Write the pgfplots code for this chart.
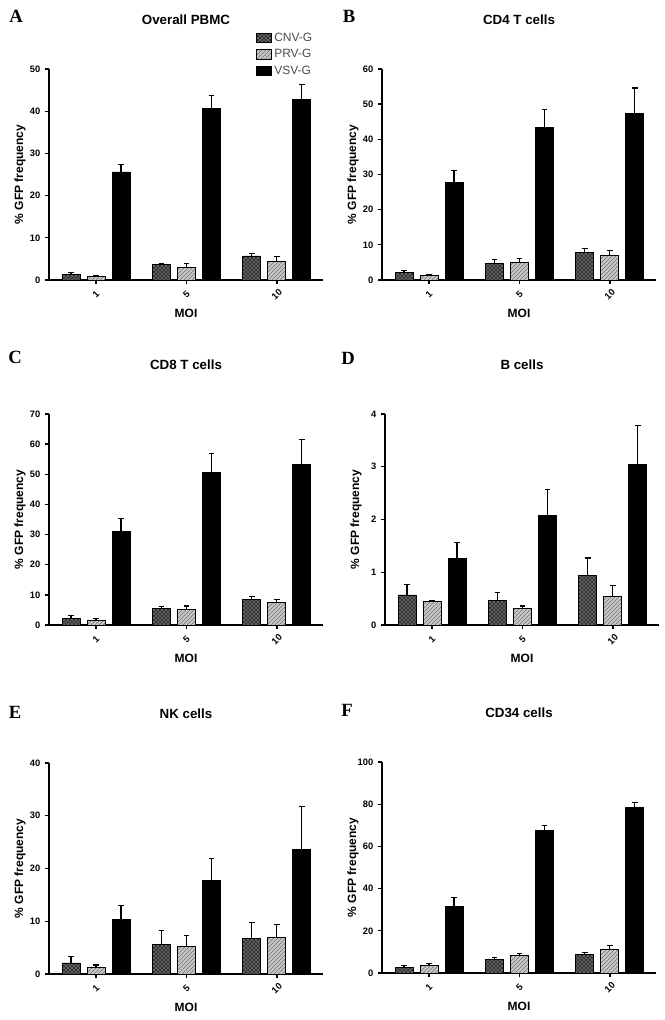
\documentclass[border=0pt]{standalone}
\usepackage{pgfplots}
\pgfplotsset{compat=1.18}
\usetikzlibrary{patterns}
\usepackage{fontspec}
\setmainfont{Liberation Sans}
\newfontfamily\serifb{Liberation Serif}
\begin{document}
\begin{tikzpicture}
\useasboundingbox (0,0) rectangle (498pt,765pt);
\pgfplotsset{
  panel/.style={
    scale only axis, width=205.5pt, height=158.25pt,
    ybar=5.25pt, bar width=13.5pt,
    xmin=-0.52, xmax=2.51, ymin=0,
    axis x line*=bottom, axis y line*=left,
    axis line style={line width=1pt},
    tick style={line width=1pt, black},
    tick align=outside, major tick length=3pt,
    xtick={0,1,2}, xticklabels={1,5,10},
    /pgf/number format/assume math mode=true,
    ticklabel style={font=\bfseries\fontsize{7}{8}\selectfont},
    xticklabel style={yshift=-8pt, rotate=45, anchor=center, inner sep=0pt},
    xlabel={MOI}, ylabel={\% GFP frequency},
    label style={font=\bfseries\fontsize{9}{10}\selectfont},
    xlabel style={at={(axis description cs:0.5,-0.158)}, anchor=center, inner sep=0pt},
    ylabel style={at={(axis description cs:-0.106,0.5)}, anchor=center, rotate=0},
    title style={at={(axis description cs:0.5,1)}, anchor=center, yshift=30.75pt, font=\bfseries\fontsize{10}{12}\selectfont},
    error bars/y dir=plus, error bars/y explicit,
    error bars/error mark=-,
    error bars/error mark options={rotate=90, black, mark size=2.2pt, line width=0.8pt},
    error bars/error bar style={black, line width=0.8pt},
  },
  leg/.style={legend image code/.code={\draw[##1] (0pt,-3.5pt) rectangle (11pt,3.5pt);}},
  cnv/.style={draw=black, line width=0.6pt,
    fill=black!80, postaction={pattern=crosshatch dots, pattern color=white}, leg},
  prv/.style={draw=black, line width=0.6pt,
    fill=black!22, postaction={pattern=north east lines, pattern color=black!55}, leg},
  vsv/.style={draw=black, line width=0.6pt, fill=black, leg},
}
% A
\begin{axis}[panel, at={(36.75pt,555pt)}, anchor=south west, ymax=50, ytick={0,10,...,50},
  title={Overall PBMC},
  legend style={at={(axis description cs:0.755,1.185)}, anchor=north west, draw=none, fill=none,
    font=\fontsize{9}{10}\selectfont\color{black!70}, row sep=0.5pt, inner sep=0pt},
  legend cell align=left]
\addplot[cnv] coordinates {(0,1.4) +- (0,0.3) (1,3.7) +- (0,0.3) (2,5.7) +- (0,0.5)};
\addplot[prv] coordinates {(0,0.8) +- (0,0.2) (1,3.0) +- (0,1.0) (2,4.35) +- (0,1.2)};
\addplot[vsv] coordinates {(0,25.6) +- (0,1.8) (1,40.6) +- (0,3.1) (2,42.7) +- (0,3.6)};
\legend{CNV-G, PRV-G, VSV-G}
\end{axis}
% B
\begin{axis}[panel, at={(286.5pt,555pt)}, anchor=south west, ymax=60, ytick={0,10,...,60},
  title={CD4 T cells}]
\addplot[cnv] coordinates {(0,2.2) +- (0,0.4) (1,4.75) +- (0,0.95) (2,7.9) +- (0,1.0)};
\addplot[prv] coordinates {(0,1.3) +- (0,0.3) (1,5.1) +- (0,1.1) (2,7.1) +- (0,1.3)};
\addplot[vsv] coordinates {(0,27.8) +- (0,3.4) (1,43.4) +- (0,5.0) (2,47.3) +- (0,7.3)};
\end{axis}
% C
\begin{axis}[panel, at={(36.75pt,296.25pt)}, anchor=south west, ymax=70, ytick={0,10,...,70},
  title={CD8 T cells}]
\addplot[cnv] coordinates {(0,2.2) +- (0,0.8) (1,5.5) +- (0,0.7) (2,8.5) +- (0,1.0)};
\addplot[prv] coordinates {(0,1.4) +- (0,0.6) (1,5.3) +- (0,1.0) (2,7.5) +- (0,1.1)};
\addplot[vsv] coordinates {(0,31.0) +- (0,4.2) (1,50.6) +- (0,6.2) (2,53.4) +- (0,8.1)};
\end{axis}
% D
\begin{axis}[panel, at={(288.75pt,296.25pt)}, anchor=south west, ymax=4, ytick={0,1,...,4},
  title={B cells}]
\addplot[cnv] coordinates {(0,0.57) +- (0,0.2) (1,0.46) +- (0,0.15) (2,0.94) +- (0,0.33)};
\addplot[prv] coordinates {(0,0.45) +- (0,0.005) (1,0.32) +- (0,0.04) (2,0.54) +- (0,0.2)};
\addplot[vsv] coordinates {(0,1.27) +- (0,0.30) (1,2.08) +- (0,0.48) (2,3.04) +- (0,0.75)};
\end{axis}
% E
\begin{axis}[panel, at={(36.75pt,34.5pt)}, anchor=south west, ymax=40, ytick={0,10,...,40},
  title={NK cells}]
\addplot[cnv] coordinates {(0,2.1) +- (0,1.2) (1,5.6) +- (0,2.6) (2,6.7) +- (0,3.0)};
\addplot[prv] coordinates {(0,1.26) +- (0,0.45) (1,5.3) +- (0,1.95) (2,6.85) +- (0,2.5)};
\addplot[vsv] coordinates {(0,10.3) +- (0,2.7) (1,17.7) +- (0,4.2) (2,23.6) +- (0,8.2)};
\end{axis}
% F
\begin{axis}[panel, at={(286.5pt,35.25pt)}, anchor=south west, ymax=100, ytick={0,20,...,100},
  title={CD34 cells}]
\addplot[cnv] coordinates {(0,2.8) +- (0,0.6) (1,6.3) +- (0,1.2) (2,9.0) +- (0,0.7)};
\addplot[prv] coordinates {(0,3.5) +- (0,0.8) (1,8.2) +- (0,1.2) (2,11.3) +- (0,1.6)};
\addplot[vsv] coordinates {(0,31.4) +- (0,4.3) (1,67.6) +- (0,2.2) (2,78.6) +- (0,2.2)};
\end{axis}
\begin{scope}[every node/.style={font=\serifb\bfseries\fontsize{14}{14}\selectfont}]
\node at (12pt,753pt) {A};
\node at (261.75pt,753pt) {B};
\node at (11.25pt,497.25pt) {C};
\node at (261pt,496.5pt) {D};
\node at (11.25pt,231pt) {E};
\node at (260.25pt,232.5pt) {F};
\end{scope}
\end{tikzpicture}
\end{document}
